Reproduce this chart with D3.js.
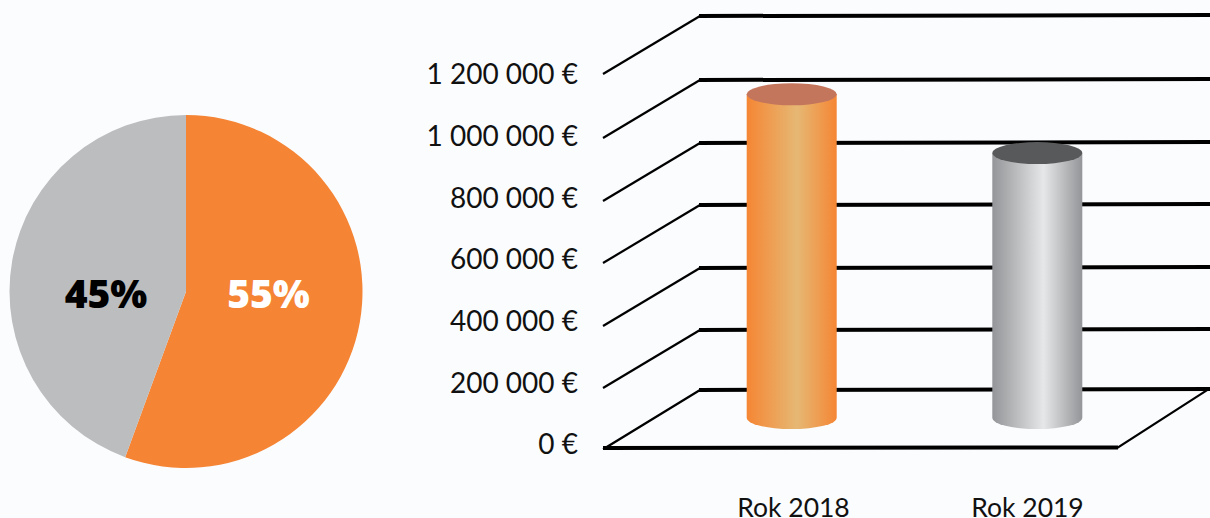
<!DOCTYPE html>
<html>
<head>
<meta charset="utf-8">
<script src="https://d3js.org/d3.v7.min.js"></script>
<style>
  html, body { margin: 0; padding: 0; background: #fbfcfe; overflow: hidden; }
  text { font-family: "Lato", "Open Sans", sans-serif; }
</style>
</head>
<body>
<svg width="1210" height="518"></svg>
<script>
const pieLabels = ['55%', '45%']
const pieValues = [55.6, 44.4]
const pieColors = ['#f58434', '#bcbdbe']
const pieTextColors = ['#ffffff', '#000000']

const years = ['Rok 2018', 'Rok 2019']
const yearValues = [1043000, 857000]
const axisTicks = [0, 200000, 400000, 600000, 800000, 1000000, 1200000]

const svg = d3.select('svg')

// faint background shading
const defs = svg.append('defs')
const bg = defs.append('linearGradient')
  .attr('id', 'bgGrad').attr('x1', 0).attr('x2', 0).attr('y1', 0).attr('y2', 1)
bg.append('stop').attr('offset', '0%').attr('stop-color', '#fbfcfe')
bg.append('stop').attr('offset', '100%').attr('stop-color', '#fafcfe')
svg.append('rect').attr('width', 1210).attr('height', 518).attr('fill', 'url(#bgGrad)')

// pie
const pieG = svg.append('g').attr('transform', 'translate(186,291.5)')
const arc = d3.arc().innerRadius(0).outerRadius(176.5)
const slices = d3.pie().sort(null)(pieValues)

pieG.selectAll('path')
  .data(slices)
  .enter()
  .append('path')
  .attr('d', arc)
  .attr('fill', (d, i) => pieColors[i])

const pieLabelX = [82.5, -80]
pieG.selectAll('text')
  .data(slices)
  .enter()
  .append('text')
  .attr('x', (d, i) => pieLabelX[i])
  .attr('y', 16.5)
  .attr('text-anchor', 'middle')
  .style('font-family', '"Open Sans"')
  .style('font-weight', 800)
  .style('font-size', '39px')
  .attr('fill', (d, i) => pieTextColors[i])
  .text((d, i) => pieLabels[i])

// 3d column chart, the drawn gridlines are not quite evenly spaced in the original
const y = d3.scaleLinear().domain(axisTicks).range([448, 388, 326, 263, 201, 138, 74])
const labelY = d3.scaleLinear().domain([0, 1200000]).range([445, 75])
const x = d3.scalePoint().domain(years).range([791.7, 1037.3])
const labelX = d3.scalePoint().domain(years).range([793.5, 1027.5])

const frontX = 603
const depthX = 97
const depthY = -58
const rightX = 1210

const locale = d3.formatLocale({ decimal: ',', thousands: ' ', grouping: [3], currency: ['', ' €'] })
const euro = d => locale.format(',')(d) + ' €'

const gridG = svg.append('g')
const wallTicks = axisTicks.filter(d => d > 0)

gridG.selectAll('.wall')
  .data(wallTicks)
  .enter()
  .append('line')
  .attr('class', 'wall')
  .attr('x1', frontX)
  .attr('y1', d => y(d))
  .attr('x2', frontX + depthX)
  .attr('y2', d => y(d) + depthY)
  .attr('stroke', 'black')
  .attr('stroke-width', 2.2)

gridG.selectAll('.back')
  .data(axisTicks)
  .enter()
  .append('line')
  .attr('class', 'back')
  .attr('x1', frontX + depthX - 1)
  .attr('y1', d => y(d) + depthY)
  .attr('x2', rightX)
  .attr('y2', d => y(d) + depthY - 1)
  .attr('stroke', 'black')
  .attr('stroke-width', 4)

// floor
gridG.append('path')
  .attr('d', `M${frontX + depthX},${y(0) + depthY} L${frontX + 3},${y(0) - 0.5} L1118,${y(0) - 0.5} L${rightX + 2},${y(0) + depthY - 3}`)
  .attr('fill', 'none')
  .attr('stroke', 'black')
  .attr('stroke-width', 2.2)
gridG.append('line')
  .attr('x1', frontX)
  .attr('y1', y(0))
  .attr('x2', 1118)
  .attr('y2', y(0) - 0.5)
  .attr('stroke', 'black')
  .attr('stroke-width', 4)

// axis labels
const yAxis = d3.axisLeft(labelY)
  .tickValues(axisTicks)
  .tickSize(0)
  .tickPadding(0)
  .tickFormat(euro)

const axisG = svg.append('g')
  .attr('transform', 'translate(578,0)')
  .call(yAxis)
axisG.select('.domain').remove()
axisG.selectAll('text')
  .style('font-family', '"Lato"')
  .style('font-size', '28px')
  .attr('fill', '#111')

// cylinders
const cylColors = [
  { edge: '#f58634', mid: '#e6b874', midAt: '56%', top: '#c4765d' },
  { edge: '#939598', mid: '#e6e7e8', midAt: '57%', top: '#58595b' }
]
cylColors.forEach((c, i) => {
  const g = defs.append('linearGradient').attr('id', 'cyl' + i)
  g.append('stop').attr('offset', '0%').attr('stop-color', c.edge)
  g.append('stop').attr('offset', c.midAt).attr('stop-color', c.mid)
  g.append('stop').attr('offset', '100%').attr('stop-color', c.edge)
})

const rx = 45
const ry = 11
const floorOffset = 30

const cyl = svg.append('g').selectAll('g')
  .data(years)
  .enter()
  .append('g')

cyl.append('path')
  .attr('d', (d, i) => {
    const cx = x(d)
    const top = y(yearValues[i]) - floorOffset
    const bottom = y(0) - floorOffset
    return `M${cx - rx},${top} L${cx - rx},${bottom} A${rx},${ry} 0 0 0 ${cx + rx},${bottom} L${cx + rx},${top} Z`
  })
  .attr('fill', (d, i) => `url(#cyl${i})`)

cyl.append('ellipse')
  .attr('cx', d => x(d))
  .attr('cy', (d, i) => y(yearValues[i]) - floorOffset)
  .attr('rx', rx)
  .attr('ry', ry)
  .attr('fill', (d, i) => cylColors[i].top)

// category labels
svg.append('g').selectAll('text')
  .data(years)
  .enter()
  .append('text')
  .attr('x', d => labelX(d))
  .attr('y', 516.5)
  .attr('text-anchor', 'middle')
  .style('font-family', '"Lato"')
  .style('font-size', '26.5px')
  .attr('fill', '#111')
  .text(d => d)
</script>
</body>
</html>
